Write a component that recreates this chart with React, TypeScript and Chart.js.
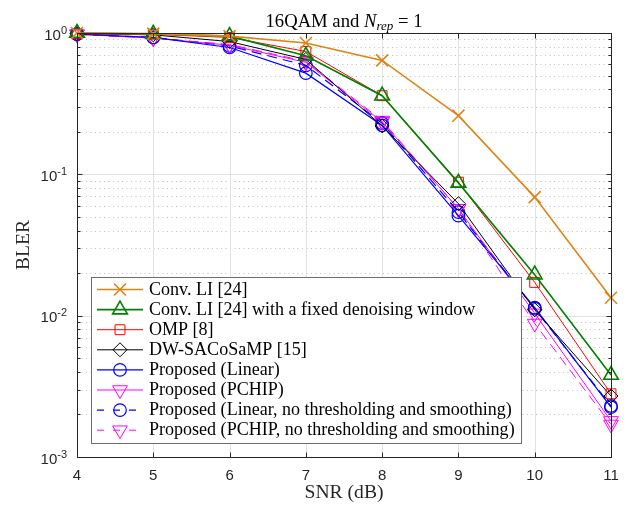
import { useEffect, useRef } from "react";
import { Chart, registerables } from "chart.js";
import { drawPoint } from "chart.js/helpers";

Chart.register(...registerables);

// ---------------- data ----------------
const snr = [4, 5, 6, 7, 8, 9, 10, 11];
const convLI = [1.0, 0.99, 0.95, 0.85, 0.64, 0.26, 0.069, 0.0134];
const convLIFixed = [1.0, 0.985, 0.95, 0.69, 0.36, 0.087, 0.0195, 0.0038];
const omp = [0.99, 0.98, 0.93, 0.74, 0.36, 0.088, 0.0172, 0.0028];
const dwSACoSaMP = [0.99, 0.97, 0.87, 0.65, 0.22, 0.062, 0.011, 0.0027];
const propLinear = [0.98, 0.93, 0.79, 0.52, 0.222, 0.051, 0.0114, 0.00225];
const propPCHIP = [0.98, 0.92, 0.82, 0.62, 0.235, 0.057, 0.0104, 0.0018];
const propLinearNT = [0.98, 0.93, 0.81, 0.59, 0.23, 0.054, 0.0112, 0.0023];
const propPCHIPNT = [0.98, 0.92, 0.83, 0.63, 0.24, 0.057, 0.0088, 0.0017];

const seriesLabels = [
  "Conv. LI [24]",
  "Conv. LI [24] with a fixed denoising window",
  "OMP [8]",
  "DW-SACoSaMP [15]",
  "Proposed (Linear)",
  "Proposed (PCHIP)",
  "Proposed (Linear, no thresholding and smoothing)",
  "Proposed (PCHIP, no thresholding and smoothing)",
];
const xTickValues = [4, 5, 6, 7, 8, 9, 10, 11];
const yDecadeExponents = [-3, -2, -1, 0];
const titleMain = "16QAM and ";
const titleItalic = "N";
const titleSub = "rep";
const titleTail = " = 1";
const xTitle = "SNR (dB)";
const yTitle = "BLER";

// ---------------- styles ----------------
const SERIF = '"Liberation Serif", "DejaVu Serif", serif';
const SANS = '"Liberation Sans", Arial, sans-serif';

type Style = {
  color: string;
  width: number;
  point: string;
  radius: number;
  rotation?: number;
  dash?: number[];
};

const styles: Style[] = [
  { color: "#DC8516", width: 1.6, point: "crossRot", radius: 8.5 },
  { color: "#008000", width: 1.6, point: "triangle", radius: 8.5 },
  { color: "#FF0000", width: 1, point: "rect", radius: 7 },
  { color: "#000000", width: 1, point: "rectRot", radius: 7 },
  { color: "#0000FF", width: 1.2, point: "circle", radius: 6.3 },
  { color: "#FF00FF", width: 1, point: "triangle", radius: 8.5, rotation: 180 },
  { color: "#0000FF", width: 1.2, point: "circle", radius: 6.3, dash: [10, 6] },
  { color: "#FF00FF", width: 1, point: "triangle", radius: 8.5, rotation: 180, dash: [10, 6] },
];

const seriesValues = [convLI, convLIFixed, omp, dwSACoSaMP, propLinear, propPCHIP, propLinearNT, propPCHIPNT];

function fitFont(ctx: CanvasRenderingContext2D, text: string, family: string, target: number, style = "") {
  ctx.font = `${style}20px ${family}`;
  const w = ctx.measureText(text).width;
  return (20 * target) / w;
}

const decor = {
  id: "decor",
  beforeDatasetsDraw(chart: any) {
    const { ctx, chartArea: a, scales } = chart;
    const x = scales.x;
    const y = scales.y;
    ctx.save();
    ctx.lineWidth = 1;
    // minor dotted grid
    ctx.strokeStyle = "rgba(0,0,0,0.25)";
    ctx.setLineDash([1, 3.5]);
    for (let d = -3; d < 0; d++) {
      for (let m = 2; m <= 9; m++) {
        const py = Math.round(y.getPixelForValue(m * Math.pow(10, d))) + 0.5;
        ctx.beginPath();
        ctx.moveTo(a.left, py);
        ctx.lineTo(a.right, py);
        ctx.stroke();
      }
    }
    // major grid
    ctx.setLineDash([]);
    ctx.strokeStyle = "#e2e2e2";
    for (const v of xTickValues) {
      const px = Math.round(x.getPixelForValue(v)) + 0.5;
      ctx.beginPath();
      ctx.moveTo(px, a.top);
      ctx.lineTo(px, a.bottom);
      ctx.stroke();
    }
    for (const e of yDecadeExponents) {
      const py = Math.round(y.getPixelForValue(Math.pow(10, e))) + 0.5;
      ctx.beginPath();
      ctx.moveTo(a.left, py);
      ctx.lineTo(a.right, py);
      ctx.stroke();
    }
    ctx.restore();
  },
  afterDatasetsDraw(chart: any) {
    const { ctx, chartArea: a, scales } = chart;
    const x = scales.x;
    const y = scales.y;
    ctx.save();
    // box
    ctx.strokeStyle = "#262626";
    ctx.lineWidth = 1;
    const L = Math.round(a.left) + 0.5;
    const R = Math.round(a.right) + 0.5;
    const T = Math.round(a.top) + 0.5;
    const B = Math.round(a.bottom) + 0.5;
    ctx.strokeRect(L, T, R - L, B - T);
    // ticks
    ctx.beginPath();
    for (const v of xTickValues) {
      const px = Math.round(x.getPixelForValue(v)) + 0.5;
      ctx.moveTo(px, B);
      ctx.lineTo(px, B - 5);
      ctx.moveTo(px, T);
      ctx.lineTo(px, T + 5);
    }
    for (let d = -3; d <= 0; d++) {
      for (let m = 1; m <= 9; m++) {
        if (d === 0 && m > 1) break;
        const py = Math.round(y.getPixelForValue(m * Math.pow(10, d))) + 0.5;
        const len = m === 1 ? 5 : 3;
        ctx.moveTo(L, py);
        ctx.lineTo(L + len, py);
        ctx.moveTo(R, py);
        ctx.lineTo(R - len, py);
      }
    }
    ctx.stroke();

    // x tick labels
    ctx.fillStyle = "#262626";
    ctx.font = `15px ${SANS}`;
    ctx.textAlign = "center";
    ctx.textBaseline = "middle";
    for (const v of xTickValues) {
      ctx.fillText(String(v), x.getPixelForValue(v), 476);
    }
    // y tick labels 10^e
    for (const e of yDecadeExponents) {
      const py = y.getPixelForValue(Math.pow(10, e));
      ctx.font = `15px ${SANS}`;
      const w10 = ctx.measureText("10").width;
      ctx.font = `11px ${SANS}`;
      const expText = String(e);
      const we = ctx.measureText(expText).width;
      const right = 67;
      const start = right - w10 - we;
      ctx.textAlign = "left";
      ctx.font = `15px ${SANS}`;
      ctx.fillText("10", start, py + 2.5);
      ctx.font = `11px ${SANS}`;
      ctx.fillText(expText, start + w10, py - 2.5);
    }

    // axis titles
    ctx.fillStyle = "#262626";
    ctx.textAlign = "center";
    ctx.textBaseline = "middle";
    const xs = fitFont(ctx, xTitle, SERIF, 79);
    ctx.font = `${xs}px ${SERIF}`;
    ctx.fillText(xTitle, (a.left + a.right) / 2, 493);
    const ys = fitFont(ctx, yTitle, SERIF, 50);
    ctx.save();
    ctx.translate(24, (a.top + a.bottom) / 2);
    ctx.rotate(-Math.PI / 2);
    ctx.font = `${ys}px ${SERIF}`;
    ctx.fillText(yTitle, 0, 0);
    ctx.restore();

    // title
    {
      ctx.fillStyle = "#000";
      ctx.textBaseline = "alphabetic";
      ctx.textAlign = "left";
      const full = titleMain + titleItalic + titleSub + titleTail;
      const ts = fitFont(ctx, full, SERIF, 165);
      const sub = ts * 0.7;
      ctx.font = `${ts}px ${SERIF}`;
      const w1 = ctx.measureText(titleMain).width;
      const w4 = ctx.measureText(titleTail).width;
      ctx.font = `italic ${ts}px ${SERIF}`;
      const w2 = ctx.measureText(titleItalic).width;
      ctx.font = `italic ${sub}px ${SERIF}`;
      const w3 = ctx.measureText(titleSub).width;
      const total = w1 + w2 + w3 + w4;
      let cx = 344 - total / 2;
      const base = 26.5;
      ctx.font = `${ts}px ${SERIF}`;
      ctx.fillText(titleMain, cx, base);
      cx += w1;
      ctx.font = `italic ${ts}px ${SERIF}`;
      ctx.fillText(titleItalic, cx, base);
      cx += w2;
      ctx.font = `italic ${sub}px ${SERIF}`;
      ctx.fillText(titleSub, cx, base + 3.5);
      cx += w3;
      ctx.font = `${ts}px ${SERIF}`;
      ctx.fillText(titleTail, cx, base);
    }

    // legend
    {
      const lg = { left: 91.5, top: 277.5, right: 521.5, bottom: 443.5 };
      ctx.fillStyle = "#ffffff";
      ctx.fillRect(lg.left, lg.top, lg.right - lg.left, lg.bottom - lg.top);
      ctx.strokeStyle = "#6e6e6e";
      ctx.lineWidth = 1;
      ctx.strokeRect(lg.left, lg.top, lg.right - lg.left, lg.bottom - lg.top);
      const fs = fitFont(ctx, seriesLabels[7], SERIF, 366);
      for (let i = 0; i < seriesLabels.length; i++) {
        const s = styles[i];
        const cy = 289.5 + i * 20.1;
        ctx.strokeStyle = s.color;
        ctx.lineWidth = s.width;
        ctx.setLineDash(s.dash ? [7, 9] : []);
        ctx.lineDashOffset = 0;
        ctx.beginPath();
        ctx.moveTo(97, cy);
        ctx.lineTo(143, cy);
        ctx.stroke();
        ctx.setLineDash([]);
        ctx.fillStyle = "rgba(0,0,0,0)";
        drawPoint(ctx, { pointStyle: s.point as any, rotation: s.rotation || 0, radius: s.radius, borderWidth: s.width } as any, 120, cy);
        ctx.fillStyle = "#000";
        ctx.font = `${fs}px ${SERIF}`;
        ctx.textAlign = "left";
        ctx.textBaseline = "middle";
        ctx.fillText(seriesLabels[i], 149, cy + 0.5);
      }
    }
    ctx.restore();
  },
};

export default function App() {
  const ref = useRef<HTMLCanvasElement | null>(null);
  useEffect(() => {
    if (!ref.current) return;
    const datasets = seriesValues.map((vals, i) => {
      const s = styles[i];
      return {
        label: seriesLabels[i],
        data: snr.map((xv, j) => ({ x: xv, y: vals[j] })),
        borderColor: s.color,
        backgroundColor: "rgba(0,0,0,0)",
        borderWidth: s.width,
        borderDash: s.dash || [],
        pointStyle: s.point,
        pointRotation: s.rotation || 0,
        pointRadius: s.radius,
        pointBorderWidth: s.width,
        pointBorderColor: s.color,
        pointBackgroundColor: "rgba(0,0,0,0)",
        tension: 0,
        fill: false,
        clip: false as any,
      };
    });
    const chart = new Chart(ref.current, {
      type: "line",
      data: { datasets: datasets as any },
      options: {
        animation: false,
        responsive: false,
        devicePixelRatio: 1,
        layout: { padding: { top: 33, right: 17, left: 0, bottom: 0 } },
        plugins: { legend: { display: false }, title: { display: false }, tooltip: { enabled: false } },
        scales: {
          x: {
            type: "linear",
            min: 4,
            max: 11,
            ticks: { display: false },
            grid: { display: false },
            border: { display: false },
            afterFit: (s: any) => {
              s.height = 49;
            },
          },
          y: {
            type: "logarithmic",
            min: 0.001,
            max: 1,
            ticks: { display: false },
            grid: { display: false },
            border: { display: false },
            afterFit: (s: any) => {
              s.width = 77;
            },
          },
        },
      },
      plugins: [decor as any],
    });
    return () => chart.destroy();
  }, []);
  return (
    <div style={{ position: "absolute", left: 0, top: 0, width: 628, height: 506, background: "#fff" }}>
      <canvas ref={ref} width={628} height={506} />
    </div>
  );
}
